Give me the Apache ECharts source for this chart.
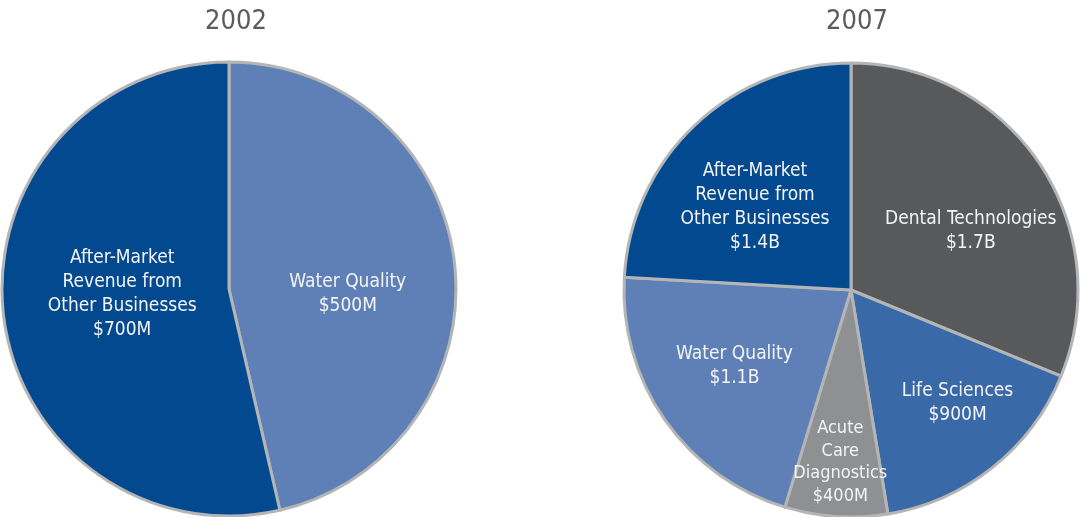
<!DOCTYPE html>
<html>
<head>
<meta charset="utf-8">
<script src="https://cdn.jsdelivr.net/npm/echarts@6/dist/echarts.min.js"></script>
<style>
  html, body { margin: 0; padding: 0; background: #fff; }
  #chart { width: 1081px; height: 517px; }
</style>
</head>
<body>
<div id="chart"></div>
<script>
var font = '"Liberation Sans Narrow", "DejaVu Sans Condensed", sans-serif';

// 2002
var names2002 = ['Water Quality', 'After-Market\nRevenue from\nOther Businesses'];
var amounts2002 = ['$500M', '$700M'];
var shares2002 = [46.4, 53.6];   // slice share (%)
var colors2002 = ['#5f80b6', '#02498f'];

// 2007
var names2007 = ['Dental Technologies', 'Life Sciences', 'Acute\nCare\nDiagnostics', 'Water Quality',
  'After-Market\nRevenue from\nOther Businesses'];
var amounts2007 = ['$1.7B', '$900M', '$400M', '$1.1B', '$1.4B'];
var shares2007 = [31.2, 16.2, 7.3, 21.2, 24.1];
var colors2007 = ['#58595b', '#3a69a8', '#8f9092', '#5f80b6', '#02498f'];

// label nudges (px) from the default inside position
var nudge2002 = [[3, 18], [9, -8]];
var nudge2007 = [[23, 6], [34, 22], [-3, 56], [-21, 9], [-16, 2]];

function build(names, amounts, shares, colors) {
  var out = [];
  for (var i = 0; i < names.length; i++) {
    var d = {
      name: names[i],
      value: shares[i],
      amount: amounts[i],
      itemStyle: { color: colors[i] }
    };
    if (names[i].indexOf('Acute') === 0) d.label = { lineHeight: 22.5, fontSize: 18 };
    out.push(d);
  }
  return out;
}

function pieSeries(center, data, nudge) {
  return {
    type: 'pie',
    center: center,
    radius: [0, 227],
    startAngle: 90,
    clockwise: true,
    animation: false,
    silent: true,
    data: data,
    itemStyle: { borderColor: '#b4b5b7', borderWidth: 3 },
    label: {
      show: true,
      position: 'inside',
      color: '#f4f4f4',
      fontFamily: font,
      fontSize: 19,
      lineHeight: 24,
      align: 'center',
      formatter: function (p) { return p.name + '\n' + p.data.amount; }
    },
    labelLine: { show: false },
    labelLayout: function (p) {
      var n = nudge[p.dataIndex];
      return { dx: n[0], dy: n[1] };
    }
  };
}

var titleStyle = { fontFamily: font, fontSize: 27, fontWeight: 'normal', color: '#5a5b5d' };

var chart = echarts.init(document.getElementById('chart'));
chart.setOption({
  backgroundColor: '#fff',
  title: [
    { text: '2002', left: 231, top: 3, textAlign: 'center', textStyle: titleStyle },
    { text: '2007', left: 852, top: 3, textAlign: 'center', textStyle: titleStyle }
  ],
  series: [
    pieSeries([229, 289], build(names2002, amounts2002, shares2002, colors2002), nudge2002),
    pieSeries([851, 290], build(names2007, amounts2007, shares2007, colors2007), nudge2007)
  ]
});
</script>
</body>
</html>
